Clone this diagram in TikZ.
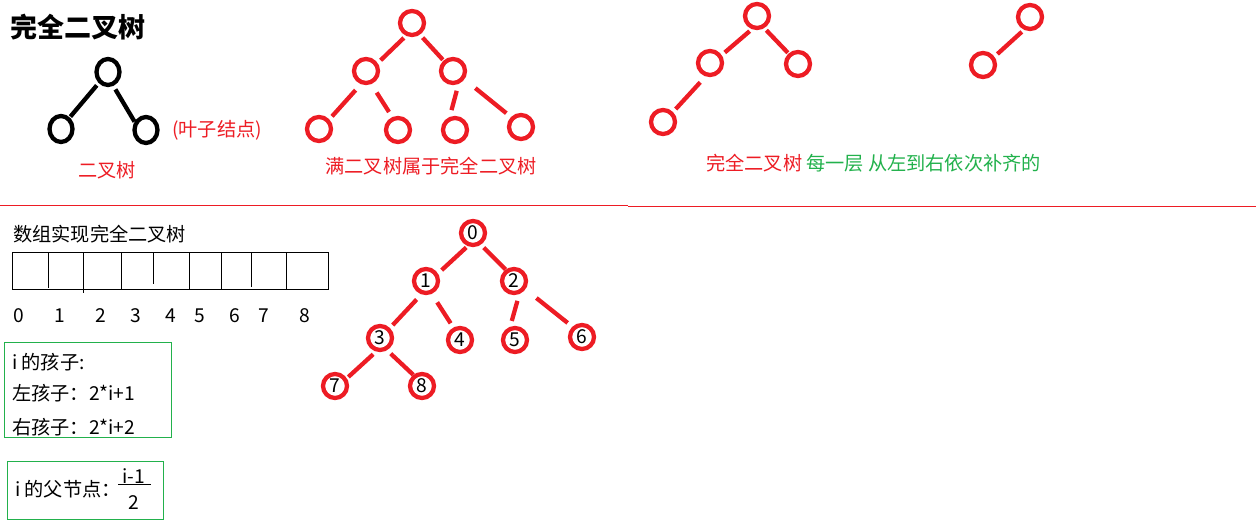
\documentclass[tikz,border=0pt]{standalone}
\usepackage{fontspec}
\setmainfont{Noto Sans CJK SC}
\usetikzlibrary{shapes.geometric, positioning}
\definecolor{paintred}{RGB}{237,28,36}
\definecolor{paintgreen}{RGB}{34,177,76}
\tikzstyle{bnode} = [ellipse, draw=black, line width=4.3pt, minimum width=23pt, minimum height=26pt, inner sep=0pt]
\tikzstyle{rnode} = [circle, draw=paintred, line width=4.3pt, minimum size=24pt, inner sep=0pt, font=\fontsize{19.2pt}{22pt}\selectfont]
\tikzstyle{bedge} = [line width=4.3pt]
\tikzstyle{redge} = [line width=4.3pt, draw=paintred]
\tikzstyle{txt} = [inner sep=0pt, font=\fontsize{19.2pt}{22pt}\selectfont]
\tikzstyle{gbox} = [draw=paintgreen, line width=1pt]

\begin{document}
\begin{tikzpicture}[x=1pt, y=-1pt, on grid]
\useasboundingbox (0,0) rectangle (1259,526);
% Title and binary tree
\node (title) [txt, anchor=west, font=\fontsize{27pt}{30pt}\selectfont\bfseries] at (10,27) {完全二叉树};
\node (B0) [bnode] at (108,72) {};
\node (B1) [bnode, below left=57pt and 47pt of B0] {};
\node (B2) [bnode, below right=58pt and 38pt of B0] {};
\draw [bedge, shorten <=3pt, shorten >=1pt] (B0.-130) -- (B1.53);
\draw [bedge, shorten <=4pt] (B0.-69) -- (B2.144);
\node (leaf) [txt, text=paintred] at (217,130) {(叶子结点)};
\node (btree) [txt, text=paintred] at (107,170) {二叉树};
% Full binary tree
\node (F0) [rnode] at (412,23) {};
\node (F1) [rnode, below left=48pt and 46pt of F0] {};
\node (F2) [rnode, below right=48pt and 41pt of F0] {};
\node (F3) [rnode, below left=58pt and 47pt of F1] {};
\node (F4) [rnode, below right=59pt and 32pt of F1] {};
\node (F5) [rnode, below right=59pt and 2pt of F2] {};
\node (F6) [rnode, below right=56pt and 68pt of F2] {};
\draw [redge, shorten <=3pt, shorten >=4pt] (F0.-115) -- (F1.34);
\draw [redge, shorten <=4pt, shorten >=1pt] (F0.-56) -- (F2.132);
\draw [redge, shorten <=8pt, shorten >=4pt] (F1.-111) -- (F3.43);
\draw [redge, shorten <=10pt, shorten >=6pt] (F1.-68) -- (F4.114);
\draw [redge, shorten <=7pt, shorten >=7pt] (F2.-67) -- (F5.112);
\draw [redge, shorten <=14pt, shorten >=6pt] (F2.-36) -- (F6.135);
\node (full) [txt, text=paintred] at (431,166) {满二叉树属于完全二叉树};
% Complete binary trees
\node (C0) [rnode] at (757,16) {};
\node (C1) [rnode, below left=47pt and 47pt of C0] {};
\node (C2) [rnode, below right=48pt and 41pt of C0] {};
\node (C3) [rnode, below left=59pt and 47pt of C1] {};
\draw [redge, shorten <=3pt, shorten >=4pt] (C0.-111) -- (C1.34);
\draw [redge, shorten <=3pt, shorten >=1pt] (C0.-59) -- (C2.132);
\draw [redge, shorten <=8pt, shorten >=4pt] (C1.-108) -- (C3.45);
\node (D0) [rnode] at (1030,17) {};
\node (D1) [rnode, below left=48pt and 47pt of D0] {};
\draw [redge, shorten <=3pt, shorten >=4pt] (D0.-115) -- (D1.36);
\node (complete) [txt, anchor=west] at (706,163) {\textcolor{paintred}{完全二叉树}\hspace{4pt}\textcolor{paintgreen}{每一层 从左到右依次补齐的}};
% Separator
\draw [paintred, line width=1pt] (0,206) -- (628,206);
\draw [paintred, line width=1pt] (628,207) -- (1256,207);
% Array
\node (array) [txt, anchor=west] at (13,234) {数组实现完全二叉树};
\draw [line width=1pt] (12,253) rectangle (328,290);
\foreach \x/\yb in {48/288, 83/293, 121/290, 153/284, 189/290, 221/290, 251/287, 286/289}
  \draw [line width=1pt] (\x,253) -- (\x,\yb);
\foreach \i/\x in {0/19, 1/60, 2/101, 3/136, 4/171, 5/200, 6/235, 7/264, 8/305}
  \node (idx\i) [txt] at (\x,316) {\i};
% Index rules
\draw [gbox] (4,343) rectangle (171,438);
\node (child) [txt, anchor=west] at (12,362) {i 的孩子:};
\node (lchild) [txt, anchor=west] at (12,393) {左孩子：2*i+1};
\node (rchild) [txt, anchor=west] at (12,427) {右孩子：2*i+2};
\draw [gbox] (7,462) rectangle (163,519);
\node (parent) [txt, anchor=west] at (15,489) {i 的父节点：};
\node (num) [txt] at (134,476) {i-1};
\node (den) [txt] at (134,503) {2};
\draw [line width=1pt] (118,485) -- (151,485);
% Numbered tree
\node (N0) [rnode] at (473,233) {0};
\node (N1) [rnode, below left=48pt and 47pt of N0] {1};
\node (N2) [rnode, below right=48pt and 41pt of N0] {2};
\node (N3) [rnode, below left=57pt and 46pt of N1] {3};
\node (N4) [rnode, below right=59pt and 34pt of N1] {4};
\node (N5) [rnode, below right=59pt and 1pt of N2] {5};
\node (N6) [rnode, below right=56pt and 68pt of N2] {6};
\node (N7) [rnode, below left=48pt and 45pt of N3] {7};
\node (N8) [rnode, below right=48pt and 42pt of N3] {8};
\draw [redge, shorten <=2pt, shorten >=5pt] (N0.-112) -- (N1.32);
\draw [redge, shorten <=4pt] (N0.-56) -- (N2.126);
\draw [redge, shorten <=7pt, shorten >=4pt] (N1.-109) -- (N3.45);
\draw [redge, shorten <=10pt, shorten >=5pt] (N1.-66) -- (N4.118);
\draw [redge, shorten <=7pt, shorten >=6pt] (N2.-68) -- (N5.110);
\draw [redge, shorten <=14pt, shorten >=6pt] (N2.-36) -- (N6.133);
\draw [redge, shorten <=4pt, shorten >=2pt] (N3.-106) -- (N7.33);
\draw [redge, shorten <=5pt] (N3.-60) -- (N8.128);
\end{tikzpicture}
\end{document}
